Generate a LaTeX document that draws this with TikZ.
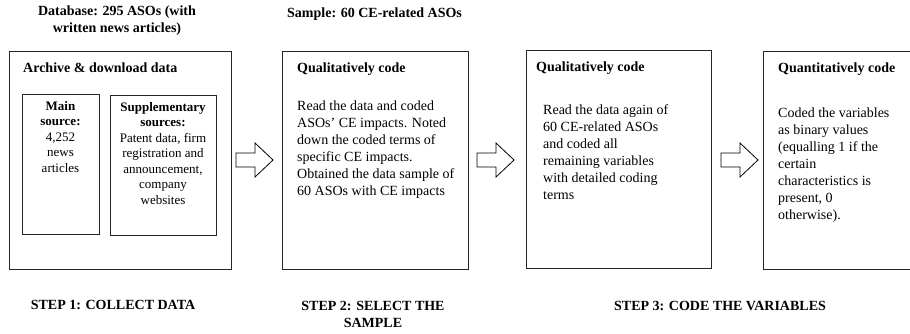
\documentclass[tikz,border=0pt]{standalone}
\usepackage{fontspec}
\setmainfont{Liberation Serif}
\begin{document}
\begin{tikzpicture}[x=1pt,y=-1pt,
  box/.style={draw=black!85, line width=0.9pt},
  head/.style={font=\fontsize{14}{17}\selectfont\bfseries, inner sep=0pt},
  body/.style={font=\fontsize{14}{17}\selectfont, inner sep=0pt, align=left, anchor=north west},
  small/.style={font=\fontsize{13}{15.5}\selectfont, inner sep=0pt, align=center, anchor=north},
  blockarrow/.style={draw=black, line width=0.8pt, fill=white, line join=miter}]
\useasboundingbox (0,0) rectangle (910,333);

% titles
\node[head, align=center] (t1) at (117,21) {Database: 295 ASOs (with\\written news articles)};
\node[head, anchor=west] (t2) at (287,14) {Sample: 60 CE-related ASOs};

% box 1
\draw[box] (9,51) rectangle (231,269);
\node[head, anchor=west] (h1) at (23,68) {Archive \& download data};
\draw[box] (22,94) rectangle (99,234);
\draw[box] (110,95) rectangle (216,235);
\node[small] (m) at (60.5,101) {\textbf{Main}\\\textbf{source:}\\4,252\\news\\articles};
\node[small] (s) at (163,102) {\textbf{Supplementary}\\\textbf{sources:}\\Patent data, firm\\registration and\\announcement,\\company\\websites};

% box 2
\draw[box] (282,51) rectangle (468,269);
\node[head, anchor=west] (h2) at (297,69) {Qualitatively code};
\node[body] (b2) at (297,101) {Read the data and coded\\ASOs' CE impacts. Noted\\down the coded terms of\\specific CE impacts.\\Obtained the data sample of\\60 ASOs with CE impacts};

% box 3
\draw[box] (526,50) rectangle (711,268);
\node[head, anchor=west] (h3) at (536,68) {Qualitatively code};
\node[body] (b3) at (543,104) {Read the data again of\\60 CE-related ASOs\\and coded all\\remaining variables\\with detailed coding\\terms};

% box 4
\draw[box] (763,51) rectangle (915,269);
\node[head, anchor=west] (h4) at (778,69) {Quantitatively code};
\node[body] (b4) at (778,108) {Coded the variables\\as binary values\\(equalling 1 if the\\certain\\characteristics is\\present, 0\\otherwise).};

% block arrows
\foreach \x in {236,477,721}{
  \draw[blockarrow] (\x,153) -- (\x+19,153) -- (\x+19,143) -- (\x+37,160)
     -- (\x+19,177) -- (\x+19,167) -- (\x,167) -- cycle;
}

% step labels
\node[head] (s1) at (113,305) {STEP 1: COLLECT DATA};
\node[head, align=center] (s2) at (373,314) {STEP 2: SELECT THE\\SAMPLE};
\node[head] (s3) at (720,306) {STEP 3: CODE THE VARIABLES};
\end{tikzpicture}
\end{document}
